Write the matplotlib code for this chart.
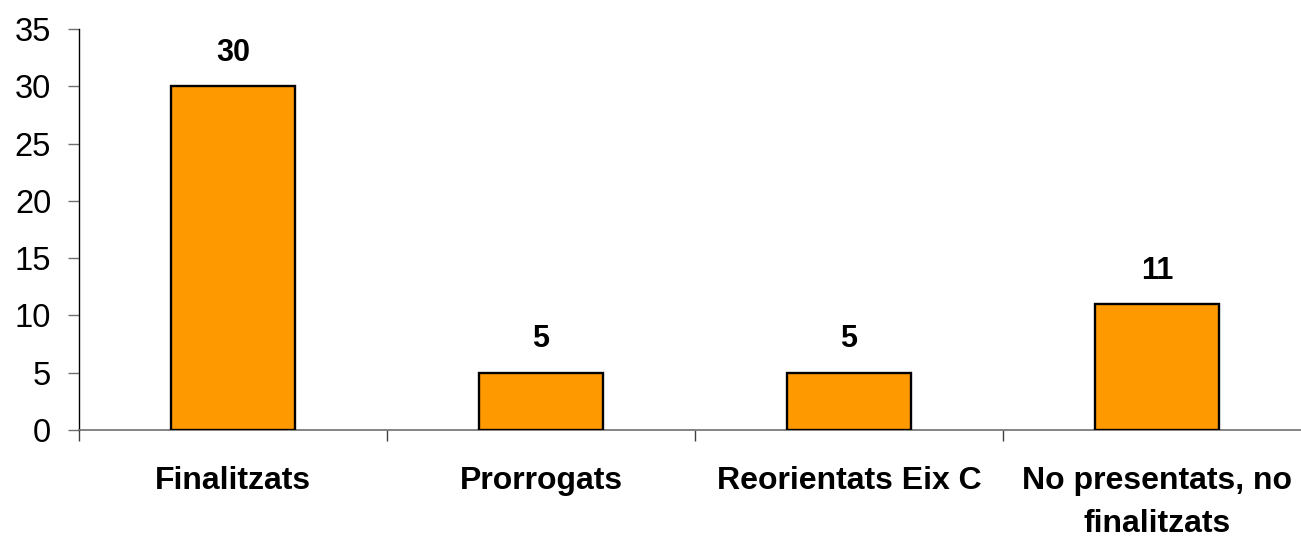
import matplotlib
matplotlib.use("Agg")
import matplotlib.pyplot as plt

categories = ["Finalitzats", "Prorrogats", "Reorientats Eix C", "No presentats, no\nfinalitzats"]
values = [30, 5, 5, 11]
yticks = [0, 5, 10, 15, 20, 25, 30, 35]

plt.rcParams['font.family'] = ['Liberation Sans', 'DejaVu Sans']

W, H = 1301, 539
fig = plt.figure(figsize=(W / 100, H / 100), dpi=100)
left, right, bottom, top = 79, 1311, 430, 29
ax = fig.add_axes([left / W, (H - bottom) / H, (right - left) / W, (bottom - top) / H])

x = list(range(len(categories)))
bars = ax.bar(x, values, width=0.40, color="#FF9900", edgecolor="black", linewidth=1.7, zorder=3)

for xi, v in zip(x, values):
    ax.annotate(str(v), (xi, v), xytext=(0, 24), textcoords="offset points",
                ha="center", va="center", fontsize=22, fontweight="bold")

ax.set_xlim(-0.5, len(categories) - 0.5)
ax.set_ylim(0, 35)
ax.set_yticks(yticks)
ax.tick_params(axis="y", direction="out", length=8, width=1, labelsize=23.5, pad=12, color="#707070")

ax.set_xticks(x)
ax.set_xticklabels(categories, fontsize=23, fontweight="bold", linespacing=1.58)
ax.tick_params(axis="x", which="major", length=0, pad=26)
ax.set_xticks([i - 0.5 for i in range(len(categories) + 1)], minor=True)
ax.tick_params(axis="x", which="minor", direction="out", length=8, width=1, color="#404040")

for s in ["top", "right"]:
    ax.spines[s].set_visible(False)
ax.spines["left"].set_color("#000000")
ax.spines["left"].set_linewidth(1)
ax.spines["bottom"].set_color("#707070")
ax.spines["bottom"].set_linewidth(1.2)

fig.savefig("out.png", dpi=100)
